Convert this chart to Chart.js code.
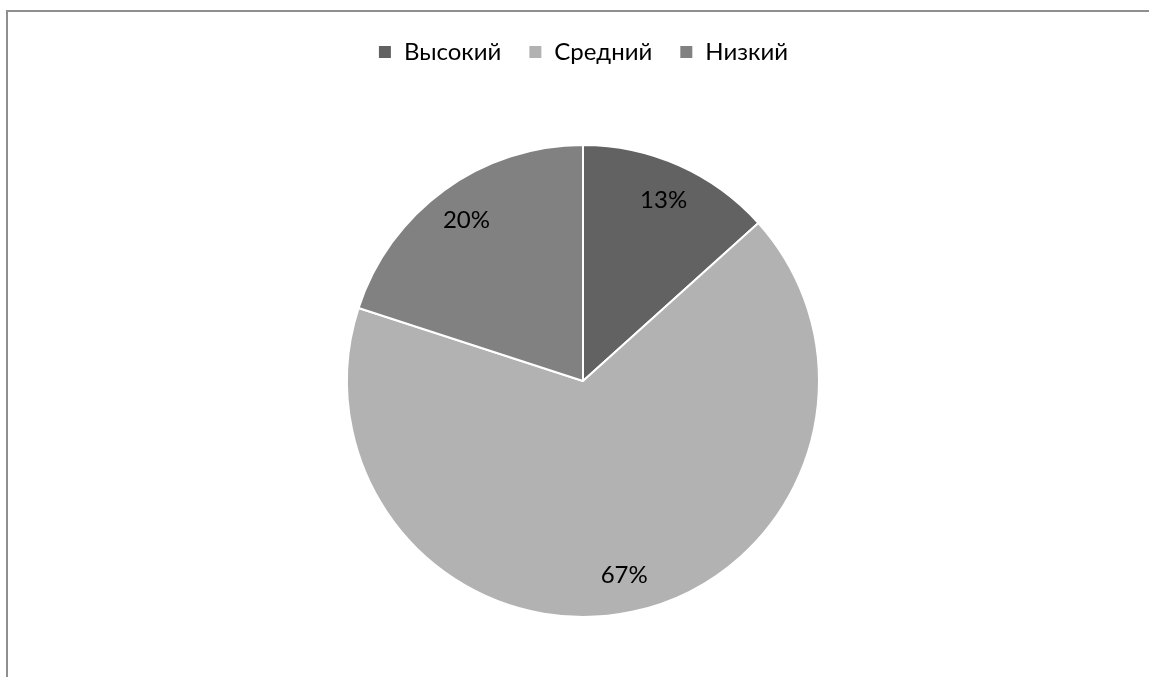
<!DOCTYPE html>
<html>
<head>
<meta charset="utf-8">
<script src="https://cdn.jsdelivr.net/npm/chart.js@4"></script>
<style>
  html, body { margin: 0; padding: 0; background: #fff; overflow: hidden; }
  #frame {
    position: absolute; left: 6px; top: 10px; width: 1200px; height: 700px;
    border-left: 2px solid #8f8f8f; border-top: 2px solid #8f8f8f;
  }
  #wrap { position: absolute; left: 0; top: 0; width: 1149px; height: 677px; }
</style>
</head>
<body>
<div id="frame"></div>
<div id="wrap"><canvas id="ChartRisk"></canvas></div>
<script>
(function () {
  "use strict";

  // Data
  const categories = ['Высокий', 'Средний', 'Низкий'];
  const values     = [2, 10, 3];

  // Colors
  const gray_dark  = '#626262';
  const gray_light = '#b2b2b2';
  const gray_mid   = '#818181';

  const fontName = 'Lato, "Open Sans", sans-serif';

  // extra space below the legend
  const legendMargin = {
    id: 'legendMargin',
    beforeInit(chart) {
      const fit = chart.legend.fit;
      chart.legend.fit = function () {
        fit.bind(chart.legend)();
        this.height += 24;
      };
    }
  };

  // percent labels inside slices
  const sliceLabels = {
    id: 'sliceLabels',
    afterDatasetsDraw(chart) {
      const ctx = chart.ctx;
      const meta = chart.getDatasetMeta(0);
      const data = chart.data.datasets[0].data;
      const total = data.reduce((a, b) => a + b, 0);
      ctx.save();
      ctx.fillStyle = '#000';
      ctx.font = '24px ' + fontName;
      ctx.textAlign = 'center';
      ctx.textBaseline = 'middle';
      meta.data.forEach((arc, i) => {
        const mid = (arc.startAngle + arc.endAngle) / 2;
        const r = arc.outerRadius * 0.84;
        const x = arc.x + Math.cos(mid) * r;
        const y = arc.y + Math.sin(mid) * r;
        ctx.fillText(Math.round(data[i] / total * 100) + '%', x, y);
      });
      ctx.restore();
    }
  };

  const chart_risk = document.getElementById('ChartRisk');
  if (chart_risk != null) {
    const ctp = chart_risk.getContext('2d');
    const PieChart = new Chart(ctp, {
      type: 'pie',
      data: {
        labels: categories,
        datasets: [{
          data: values,
          backgroundColor: [gray_dark, gray_light, gray_mid],
          borderColor: '#ffffff',
          borderWidth: 2
        }]
      },
      options: {
        responsive: true,
        maintainAspectRatio: false,
        animation: false,
        radius: 236,
        layout: {
          padding: { top: 13, bottom: 13, left: 17, right: 0 }
        },
        plugins: {
          tooltip: { enabled: false },
          legend: {
            display: true,
            position: 'top',
            labels: {
              color: '#000',
              boxWidth: 14,
              boxHeight: 14,
              padding: 27,
              font: { family: fontName, size: 24 }
            }
          }
        }
      },
      plugins: [legendMargin, sliceLabels]
    });
  }
})();
</script>
</body>
</html>
